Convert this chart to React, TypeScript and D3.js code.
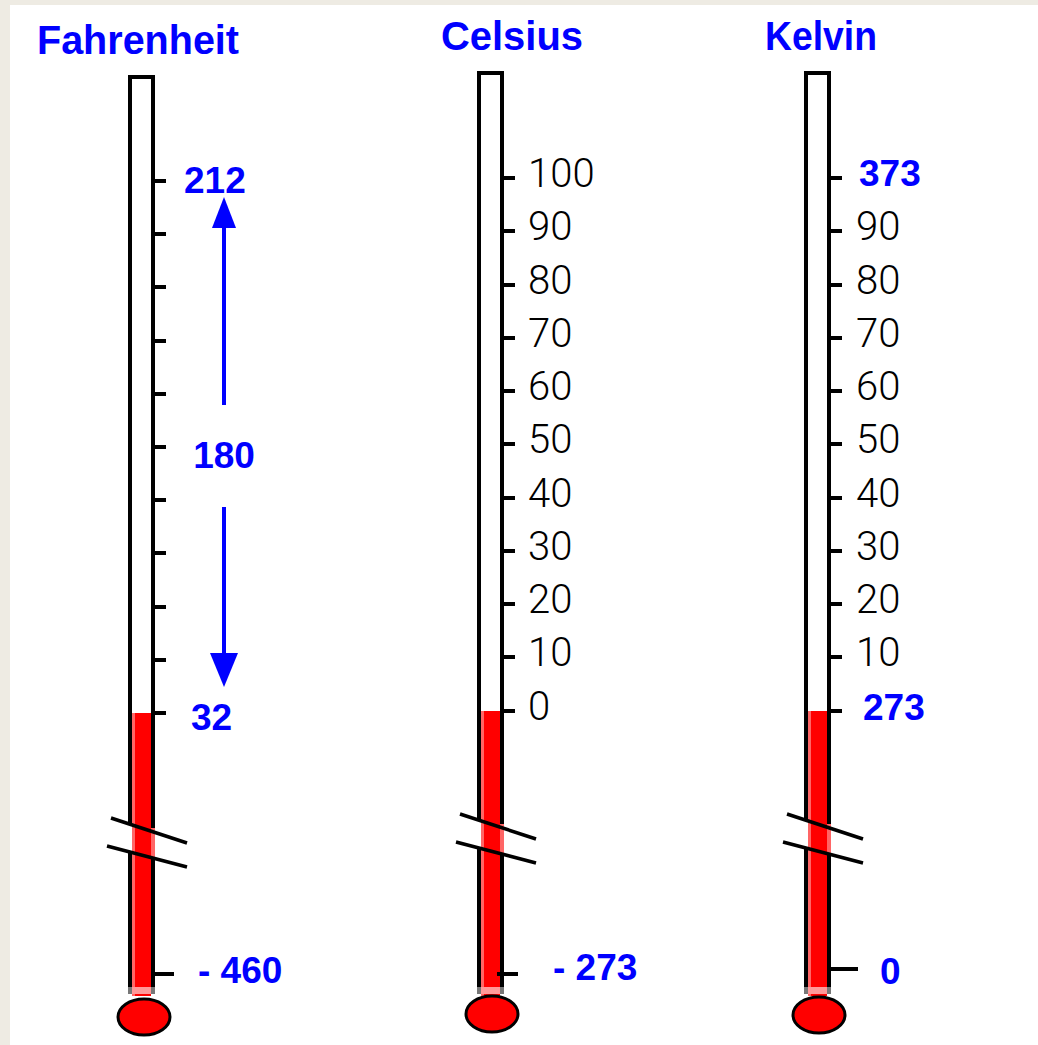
import * as d3 from 'd3';
import { useEffect, useRef } from 'react';

// three temperature scales, each with boiling / freezing / absolute zero
const scaleNames = ['Fahrenheit', 'Celsius', 'Kelvin'];
const boiling = [212, 100, 373];
const freezing = [32, 0, 273];
const absoluteZero = [-460, -273, 0];

const fahrenheitTicks = [32, 50, 68, 86, 104, 122, 140, 158, 176, 194, 212];
const celsiusTicks = [0, 10, 20, 30, 40, 50, 60, 70, 80, 90, 100];
const celsiusLabels = ['0', '10', '20', '30', '40', '50', '60', '70', '80', '90', '100'];
const kelvinTicks = [273, 283, 293, 303, 313, 323, 333, 343, 353, 363, 373];
const kelvinLabels = ['', '10', '20', '30', '40', '50', '60', '70', '80', '90', ''];

const tickSets = [fahrenheitTicks, celsiusTicks, kelvinTicks];
const plainLabels = [[], celsiusLabels, kelvinLabels];

// blue key labels per scale
const fahrenheitKeys = ['212', '32', '- 460'];
const celsiusKeys = ['- 273'];
const kelvinKeys = ['373', '273', '0'];
const spanLabel = '180';

const W = 1038;
const H = 1045;
const BLUE = '#0000ff';
const RED = '#ff0000';
const PINK = '#ff6666';

const layout = [
  {
    left: 128, top: 75, titleX: 37, titleY: 54, titleLen: 202,
    yRange: [974, 713, 181], breakY: 818, bulb: [144, 1017],
    labelX: 0, zeroTick: [155, 174],
    keys: [{ x: 184, dy: 12 }, { x: 191, dy: 17 }, { x: 198, dy: 9 }],
  },
  {
    left: 477, top: 71, titleX: 441, titleY: 50, titleLen: 142,
    yRange: [974, 710.5, 178], breakY: 814, bulb: [492, 1014],
    labelX: 528, zeroTick: [497, 518],
    keys: [{ x: 553, dy: 6 }],
  },
  {
    left: 804, top: 71, titleX: 765, titleY: 50, titleLen: 112,
    yRange: [968.5, 710.5, 178], breakY: 814, bulb: [819, 1015],
    labelX: 856, zeroTick: [831, 858],
    keys: [{ x: 859, dy: 8 }, { x: 863, dy: 9 }, { x: 880, dy: 15 }],
  },
];

const keySets = [
  [boiling[0], freezing[0], absoluteZero[0]],
  [absoluteZero[1]],
  [boiling[2], freezing[2], absoluteZero[2]],
];
const keyTexts = [fahrenheitKeys, celsiusKeys, kelvinKeys];

const App = () => {
  const ref = useRef<SVGSVGElement>(null);

  useEffect(() => {
    const svg = d3.select(ref.current);
    svg.selectAll('*').remove();

    svg.append('rect').attr('width', W).attr('height', H).attr('fill', '#eeebe3');
    svg.append('rect').attr('x', 10).attr('y', 5).attr('width', W - 10).attr('height', H - 5).attr('fill', '#fff');

    scaleNames.forEach((name, i) => {
      const lay = layout[i];
      const y = d3
        .scaleLinear()
        .domain([absoluteZero[i], freezing[i], boiling[i]])
        .range(lay.yRange);
      const g = svg.append('g').attr('shape-rendering', 'crispEdges');
      const L = lay.left;
      const R = L + 27;
      const tubeBottom = 990;

      // title
      svg
        .append('text')
        .attr('x', lay.titleX)
        .attr('y', lay.titleY)
        .attr('textLength', lay.titleLen)
        .attr('lengthAdjust', 'spacingAndGlyphs')
        .attr('font-family', 'Liberation Sans, Arial, sans-serif')
        .attr('font-weight', 700)
        .attr('font-size', 40)
        .attr('fill', BLUE)
        .text(name);

      // tube
      g.append('rect').attr('x', L).attr('y', lay.top).attr('width', 27).attr('height', tubeBottom - lay.top).attr('fill', '#fff');
      const fillTop = y(freezing[i]);
      g.append('rect').attr('x', L + 4).attr('y', fillTop).attr('width', 19).attr('height', 996 - fillTop).attr('fill', RED);
      g.append('rect').attr('x', L + 4).attr('y', fillTop).attr('width', 3).attr('height', 996 - fillTop).attr('fill', PINK);
      g.append('rect').attr('x', L + 4).attr('y', 987).attr('width', 19).attr('height', 7).attr('fill', '#ff9999');

      g.append('rect').attr('x', L).attr('y', lay.top).attr('width', 27).attr('height', 4).attr('fill', '#000');
      g.append('rect').attr('x', L).attr('y', lay.top).attr('width', 4).attr('height', 987 - lay.top).attr('fill', '#000');
      g.append('rect').attr('x', R - 4).attr('y', lay.top).attr('width', 4).attr('height', 987 - lay.top).attr('fill', '#000');
      g.append('rect').attr('x', L).attr('y', 987).attr('width', 4).attr('height', 7).attr('fill', '#777');
      g.append('rect').attr('x', R - 4).attr('y', 987).attr('width', 4).attr('height', 7).attr('fill', '#777');

      // bulb
      svg
        .append('ellipse')
        .attr('cx', lay.bulb[0])
        .attr('cy', lay.bulb[1])
        .attr('rx', 26)
        .attr('ry', 18)
        .attr('fill', RED)
        .attr('stroke', '#000')
        .attr('stroke-width', 3);

      // ticks
      g.selectAll('.tick')
        .data(tickSets[i])
        .enter()
        .append('rect')
        .attr('x', R)
        .attr('y', (d) => Math.round(y(d)) - 2)
        .attr('width', 11)
        .attr('height', 4)
        .attr('fill', '#000');

      g.append('rect')
        .attr('x', lay.zeroTick[0])
        .attr('y', Math.round(y(absoluteZero[i])) - 2)
        .attr('width', lay.zeroTick[1] - lay.zeroTick[0])
        .attr('height', 4)
        .attr('fill', '#000');

      // plain black labels
      svg
        .selectAll(`.lbl${i}`)
        .data(tickSets[i].map((t, j) => ({ t, s: plainLabels[i][j] })).filter((d) => d.s))
        .enter()
        .append('text')
        .attr('x', lay.labelX)
        .attr('y', (d) => y(d.t) + 9)
        .attr('font-family', 'Roboto, Liberation Sans, sans-serif')
        .attr('font-weight', 300)
        .attr('font-size', 40)
        .attr('fill', '#000')
        .text((d) => d.s);

      // blue key labels
      keySets[i].forEach((v, j) => {
        svg
          .append('text')
          .attr('x', lay.keys[j].x)
          .attr('y', y(v) + lay.keys[j].dy)
          .attr('font-family', 'Liberation Sans, Arial, sans-serif')
          .attr('font-weight', 700)
          .attr('font-size', 37)
          .attr('fill', BLUE)
          .style('white-space', 'pre')
          .text(keyTexts[i][j]);
      });

      // break in the scale
      const b = lay.breakY;
      g.append('rect').attr('x', L).attr('y', b + 5).attr('width', 4).attr('height', 29).attr('fill', '#fff');
      g.append('rect').attr('x', L + 4).attr('y', b + 5).attr('width', 3).attr('height', 29).attr('fill', PINK);
      g.append('rect').attr('x', R - 4).attr('y', b + 10).attr('width', 4).attr('height', 30).attr('fill', PINK);
      const line = d3.line();
      [
        [[L - 17, b], [L + 59, b + 25]],
        [[L - 21, b + 28], [L + 59, b + 49]],
      ].forEach((pts) => {
        svg
          .append('path')
          .attr('d', line(pts as [number, number][]))
          .attr('stroke', '#000')
          .attr('stroke-width', 3.5)
          .attr('fill', 'none');
      });

      // span arrows on the Fahrenheit tube
      if (i === 0) {
        const ax = 224;
        const top = y(boiling[0]) + 16;
        const bot = y(freezing[0]) - 26;
        const arrow = svg.append('g').attr('fill', BLUE);
        arrow.append('path').attr('d', `M${ax},${top}L${ax + 12},${top + 31}L${ax - 12},${top + 31}Z`);
        arrow.append('rect').attr('x', ax - 2).attr('y', top + 30).attr('width', 4).attr('height', 405 - top - 30);
        arrow.append('rect').attr('x', ax - 2).attr('y', 507).attr('width', 4).attr('height', bot - 34 - 507);
        arrow.append('path').attr('d', `M${ax},${bot}L${ax + 14},${bot - 34}L${ax - 14},${bot - 34}Z`);
        svg
          .append('text')
          .attr('x', ax)
          .attr('y', 468)
          .attr('text-anchor', 'middle')
          .attr('font-family', 'Liberation Sans, Arial, sans-serif')
          .attr('font-weight', 700)
          .attr('font-size', 37)
          .attr('fill', BLUE)
          .text(spanLabel);
      }
    });
  }, []);

  return (
    <svg
      ref={ref}
      width={W}
      height={H}
      style={{ position: 'absolute', left: 0, top: 0, display: 'block' }}
    />
  );
};

export default App;
